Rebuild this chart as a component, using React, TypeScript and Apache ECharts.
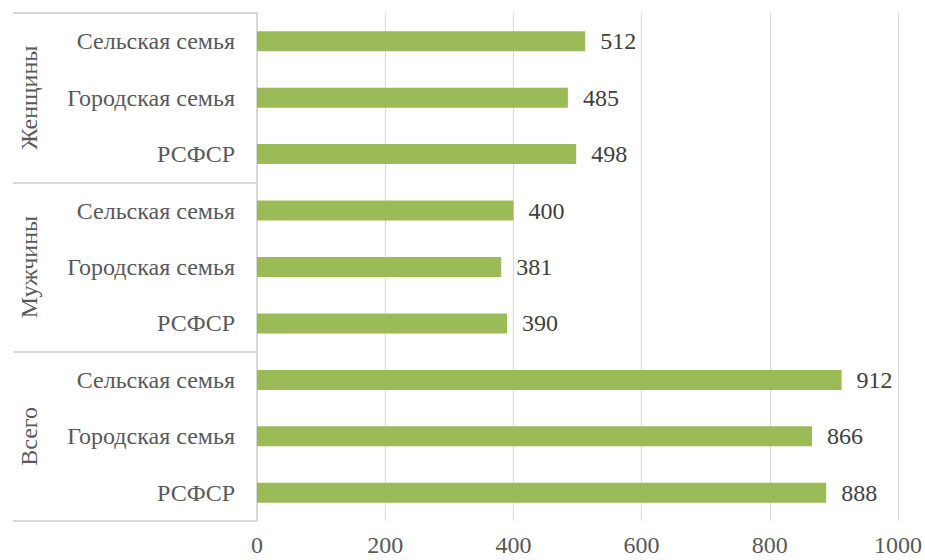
import React, { useEffect, useRef } from "react";
import * as echarts from "echarts";

const groups = ["Всего", "Мужчины", "Женщины"];
const subcats = ["РСФСР", "Городская семья", "Сельская семья"];
const totalValues = [888, 866, 912];
const menValues = [390, 381, 400];
const womenValues = [498, 485, 512];
const xTicks = [0, 200, 400, 600, 800, 1000];

const FONT = "Liberation Serif";

export default function App() {
  const ref = useRef<HTMLDivElement>(null);
  useEffect(() => {
    if (!ref.current) return;
    const chart = echarts.init(ref.current, undefined, { renderer: "svg" });
    const groupVals = [totalValues, menValues, womenValues];
    const keys: string[] = [];
    const values: number[] = [];
    groups.forEach((g, gi) => {
      subcats.forEach((s, si) => {
        keys.push(g + "|" + s);
        values.push(groupVals[gi][si]);
      });
    });
    chart.setOption({
      animation: false,
      textStyle: { fontFamily: FONT },
      grid: { left: 257, right: 27, top: 13, bottom: 39, containLabel: false },
      xAxis: {
        type: "value",
        min: xTicks[0],
        max: xTicks[xTicks.length - 1],
        interval: xTicks[1] - xTicks[0],
        axisLine: { show: false },
        axisTick: { show: false },
        splitLine: { lineStyle: { color: "#d9d9d9", width: 1 } },
        axisLabel: {
          color: "#595959",
          fontSize: 24,
          fontFamily: FONT,
          margin: 12,
          formatter: (v: number) => String(v),
        },
      },
      yAxis: [
        {
          type: "category",
          data: keys,
          position: "left",
          axisLine: { show: true, lineStyle: { color: "#d9d9d9", width: 2 } },
          axisTick: { show: false },
          axisLabel: {
            color: "#595959",
            fontSize: 24,
            fontFamily: FONT,
            margin: 22,
            formatter: (v: string) => v.split("|")[1],
          },
        },
        {
          type: "category",
          data: groups,
          position: "left",
          axisLine: { show: false },
          axisTick: {
            show: true,
            length: 244,
            lineStyle: { color: "#d9d9d9", width: 2 },
          },
          axisLabel: {
            color: "#595959",
            fontSize: 24,
            fontFamily: FONT,
            rotate: 90,
            margin: 216,
          },
        },
      ],
      series: [
        {
          type: "bar",
          yAxisIndex: 0,
          data: values,
          barWidth: 20,
          itemStyle: { color: "#9bbb59" },
          label: {
            show: true,
            position: "right",
            distance: 15,
            color: "#404040",
            fontSize: 24,
            fontFamily: FONT,
          },
        },
      ],
    });
    return () => chart.dispose();
  }, []);
  return <div ref={ref} style={{ width: 925, height: 560, position: "absolute", left: 0, top: 0 }} />;
}
